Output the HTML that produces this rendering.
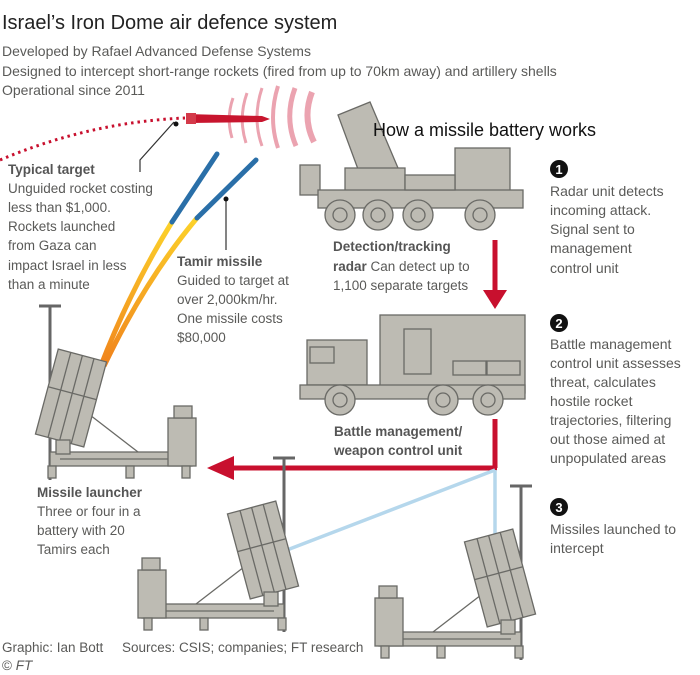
<!DOCTYPE html>
<html><head><meta charset="utf-8"><style>
body{margin:0;background:#fff;}
svg{display:block;font-family:"Liberation Sans",sans-serif;}
.t{fill:#5a5a58;font-size:13.5px;}
.r{font-size:14px;}
.b{font-weight:bold;fill:#555;}
.g{fill:#bdbbb3;stroke:#6a6a66;stroke-width:1.3;}
.l{stroke:#6a6a66;stroke-width:1.3;fill:none;}
</style></head><body>
<svg width="700" height="675" viewBox="0 0 700 675">
<defs>
<linearGradient id="tr" x1="0" y1="1" x2="0" y2="0"><stop offset="0" stop-color="#f0821c"/><stop offset="1" stop-color="#fcd22a"/></linearGradient>
<g id="lau">
 <line x1="0" y1="-174" x2="0" y2="0" stroke="#666" stroke-width="3"/>
 <line x1="-11" y1="-174" x2="11" y2="-174" stroke="#666" stroke-width="3"/>
 <rect x="-142" y="-28" width="142" height="14" class="g"/>
 <line x1="-130" y1="-21" x2="-10" y2="-21" class="l"/>
 <rect x="-146" y="-62" width="28" height="48" class="g"/>
 <rect x="-142" y="-74" width="18" height="12" class="g"/>
 <rect x="-140" y="-14" width="8" height="12" class="g"/><rect x="-84" y="-14" width="8" height="12" class="g"/><rect x="-6" y="-14" width="8" height="12" class="g"/>
 <line x1="-88" y1="-28" x2="-40" y2="-65" class="l" stroke-width="2"/>
 <g transform="translate(-21,-82) rotate(-15)">
  <rect x="-25" y="-44" width="50" height="88" class="g"/>
  <line x1="-25" y1="-5" x2="25" y2="-5" class="l"/>
  <line x1="-12" y1="-44" x2="-12" y2="44" class="l"/><line x1="0" y1="-44" x2="0" y2="44" class="l"/><line x1="12" y1="-44" x2="12" y2="44" class="l"/>
 </g>
 <rect x="-20" y="-40" width="14" height="14" class="g"/>
</g>
<g id="wh"><circle r="15" class="g"/><circle r="7" class="g"/></g>
</defs>

<text x="2" y="29" style="font-size:20px;fill:#222">Israel’s Iron Dome air defence system</text>
<text x="2" y="56" class="t r">Developed by Rafael Advanced Defense Systems</text>
<text x="2" y="76" class="t r">Designed to intercept short-range rockets (fired from up to 70km away) and artillery shells</text>
<text x="2" y="95" class="t r">Operational since 2011</text>

<g fill="none" stroke="#eba3b0" stroke-width="3">
<path d="M233,98 Q226,118 232,138"/><path d="M247,93 Q238,118 246,143"/><path d="M262,88 Q252,118 262,146"/><path d="M278,86 Q268,118 278,148" stroke-width="4"/><path d="M295,88 Q284,118 296,146" stroke-width="5"/><path d="M312,92 Q302,118 314,142" stroke-width="6"/>
</g>
<path d="M0,160 Q90,122 185,118" fill="none" stroke="#c8102e" stroke-width="3" stroke-dasharray="2.5 4"/>
<path d="M186,114 L262,116 L270,119 L262,122 L190,123 Z" fill="#c8152e"/>
<rect x="186" y="113" width="10" height="11" fill="#d43a4a"/>
<path d="M174,122 L140,160 L140,172" fill="none" stroke="#333" stroke-width="1.2"/><circle cx="176" cy="124" r="2.5" fill="#111"/>

<path d="M100,368 Q130,290 172,222" fill="none" stroke="url(#tr)" stroke-width="5"/>
<path d="M104,366 Q145,280 197,218" fill="none" stroke="url(#tr)" stroke-width="5"/>
<g stroke="#2a6fa8" stroke-width="5" stroke-linecap="round">
<line x1="172" y1="222" x2="217" y2="154"/><line x1="197" y1="218" x2="256" y2="160"/></g>
<path d="M226,200 L226,250" stroke="#333" stroke-width="1.2"/><circle cx="226" cy="199" r="2.5" fill="#111"/>

<text x="8" y="174" class="t b">Typical target</text>
<text class="t"><tspan x="8" y="193">Unguided rocket costing</tspan><tspan x="8" y="212">less than $1,000.</tspan><tspan x="8" y="231">Rockets launched</tspan><tspan x="8" y="250">from Gaza can</tspan><tspan x="8" y="270">impact Israel in less</tspan><tspan x="8" y="289">than a minute</tspan></text>
<text x="177" y="266" class="t b">Tamir missile</text>
<text class="t"><tspan x="177" y="285">Guided to target at</tspan><tspan x="177" y="304">over 2,000km/hr.</tspan><tspan x="177" y="323">One missile costs</tspan><tspan x="177" y="342">$80,000</tspan></text>

<g>
<polygon points="338,115 370,102 398,168 362,180" class="g"/>
<rect x="345" y="168" width="60" height="30" class="g"/>
<rect x="300" y="165" width="20" height="30" class="g"/>
<rect x="455" y="148" width="55" height="52" class="g"/>
<rect x="318" y="190" width="205" height="18" class="g"/>
<rect x="405" y="175" width="50" height="15" class="g"/>
<use href="#wh" x="340" y="215"/><use href="#wh" x="378" y="215"/><use href="#wh" x="418" y="215"/><use href="#wh" x="480" y="215"/>
</g>
<text x="373" y="136" style="font-size:18px;fill:#111">How a missile battery works</text>
<text x="333" y="251" class="t b">Detection/tracking</text>
<text x="333" y="271" class="t"><tspan class="b">radar</tspan> Can detect up to</text>
<text x="333" y="290" class="t">1,100 separate targets</text>

<line x1="495" y1="240" x2="495" y2="292" stroke="#c8102e" stroke-width="5"/>
<polygon points="483,290 507,290 495,309" fill="#c8102e"/>
<line x1="495" y1="419" x2="495" y2="468" stroke="#c8102e" stroke-width="5"/>
<line x1="232" y1="468" x2="497" y2="468" stroke="#c8102e" stroke-width="5"/>
<polygon points="234,456 234,480 207,468" fill="#c8102e"/>
<line x1="495" y1="470" x2="287" y2="550" stroke="#b5d7ec" stroke-width="3.5"/>
<line x1="495" y1="470" x2="495" y2="545" stroke="#b5d7ec" stroke-width="3.5"/>

<g>
<rect x="380" y="315" width="145" height="78" class="g"/>
<rect x="404" y="329" width="27" height="45" class="g"/>
<rect x="453" y="361" width="33" height="14" class="g"/><rect x="487" y="361" width="33" height="14" class="g"/>
<rect x="307" y="340" width="60" height="45" class="g"/>
<rect x="310" y="347" width="24" height="16" class="g"/>
<rect x="300" y="385" width="225" height="14" class="g"/>
<use href="#wh" x="340" y="400"/><use href="#wh" x="443" y="400"/><use href="#wh" x="488" y="400"/>
</g>
<text x="334" y="436" class="t b">Battle management/</text>
<text x="334" y="455" class="t b">weapon control unit</text>

<use href="#lau" transform="translate(50,480) scale(-1,1)"/>
<use href="#lau" transform="translate(284,632)"/>
<use href="#lau" transform="translate(521,660)"/>

<text x="37" y="497" class="t b">Missile launcher</text>
<text class="t"><tspan x="37" y="516">Three or four in a</tspan><tspan x="37" y="535">battery with 20</tspan><tspan x="37" y="554">Tamirs each</tspan></text>

<g font-size="13" font-weight="bold" fill="#fff" text-anchor="middle">
<circle cx="559" cy="169" r="9" fill="#111"/><text x="559" y="174">1</text>
<circle cx="559" cy="323" r="9" fill="#111"/><text x="559" y="328">2</text>
<circle cx="559" cy="507" r="9" fill="#111"/><text x="559" y="512">3</text>
</g>
<text class="t r"><tspan x="550" y="196">Radar unit detects</tspan><tspan x="550" y="215">incoming attack.</tspan><tspan x="550" y="234">Signal sent to</tspan><tspan x="550" y="253">management</tspan><tspan x="550" y="273">control unit</tspan></text>
<text class="t r"><tspan x="550" y="349">Battle management</tspan><tspan x="550" y="368">control unit assesses</tspan><tspan x="550" y="387">threat, calculates</tspan><tspan x="550" y="406">hostile rocket</tspan><tspan x="550" y="425">trajectories, filtering</tspan><tspan x="550" y="444">out those aimed at</tspan><tspan x="550" y="463">unpopulated areas</tspan></text>
<text class="t r"><tspan x="550" y="534">Missiles launched to</tspan><tspan x="550" y="553">intercept</tspan></text>

<text x="2" y="652" class="t">Graphic: Ian Bott</text>
<text x="122" y="652" class="t">Sources: CSIS; companies; FT research</text>
<text x="2" y="670" class="t">© <tspan font-style="italic">FT</tspan></text>
</svg>
</body></html>
